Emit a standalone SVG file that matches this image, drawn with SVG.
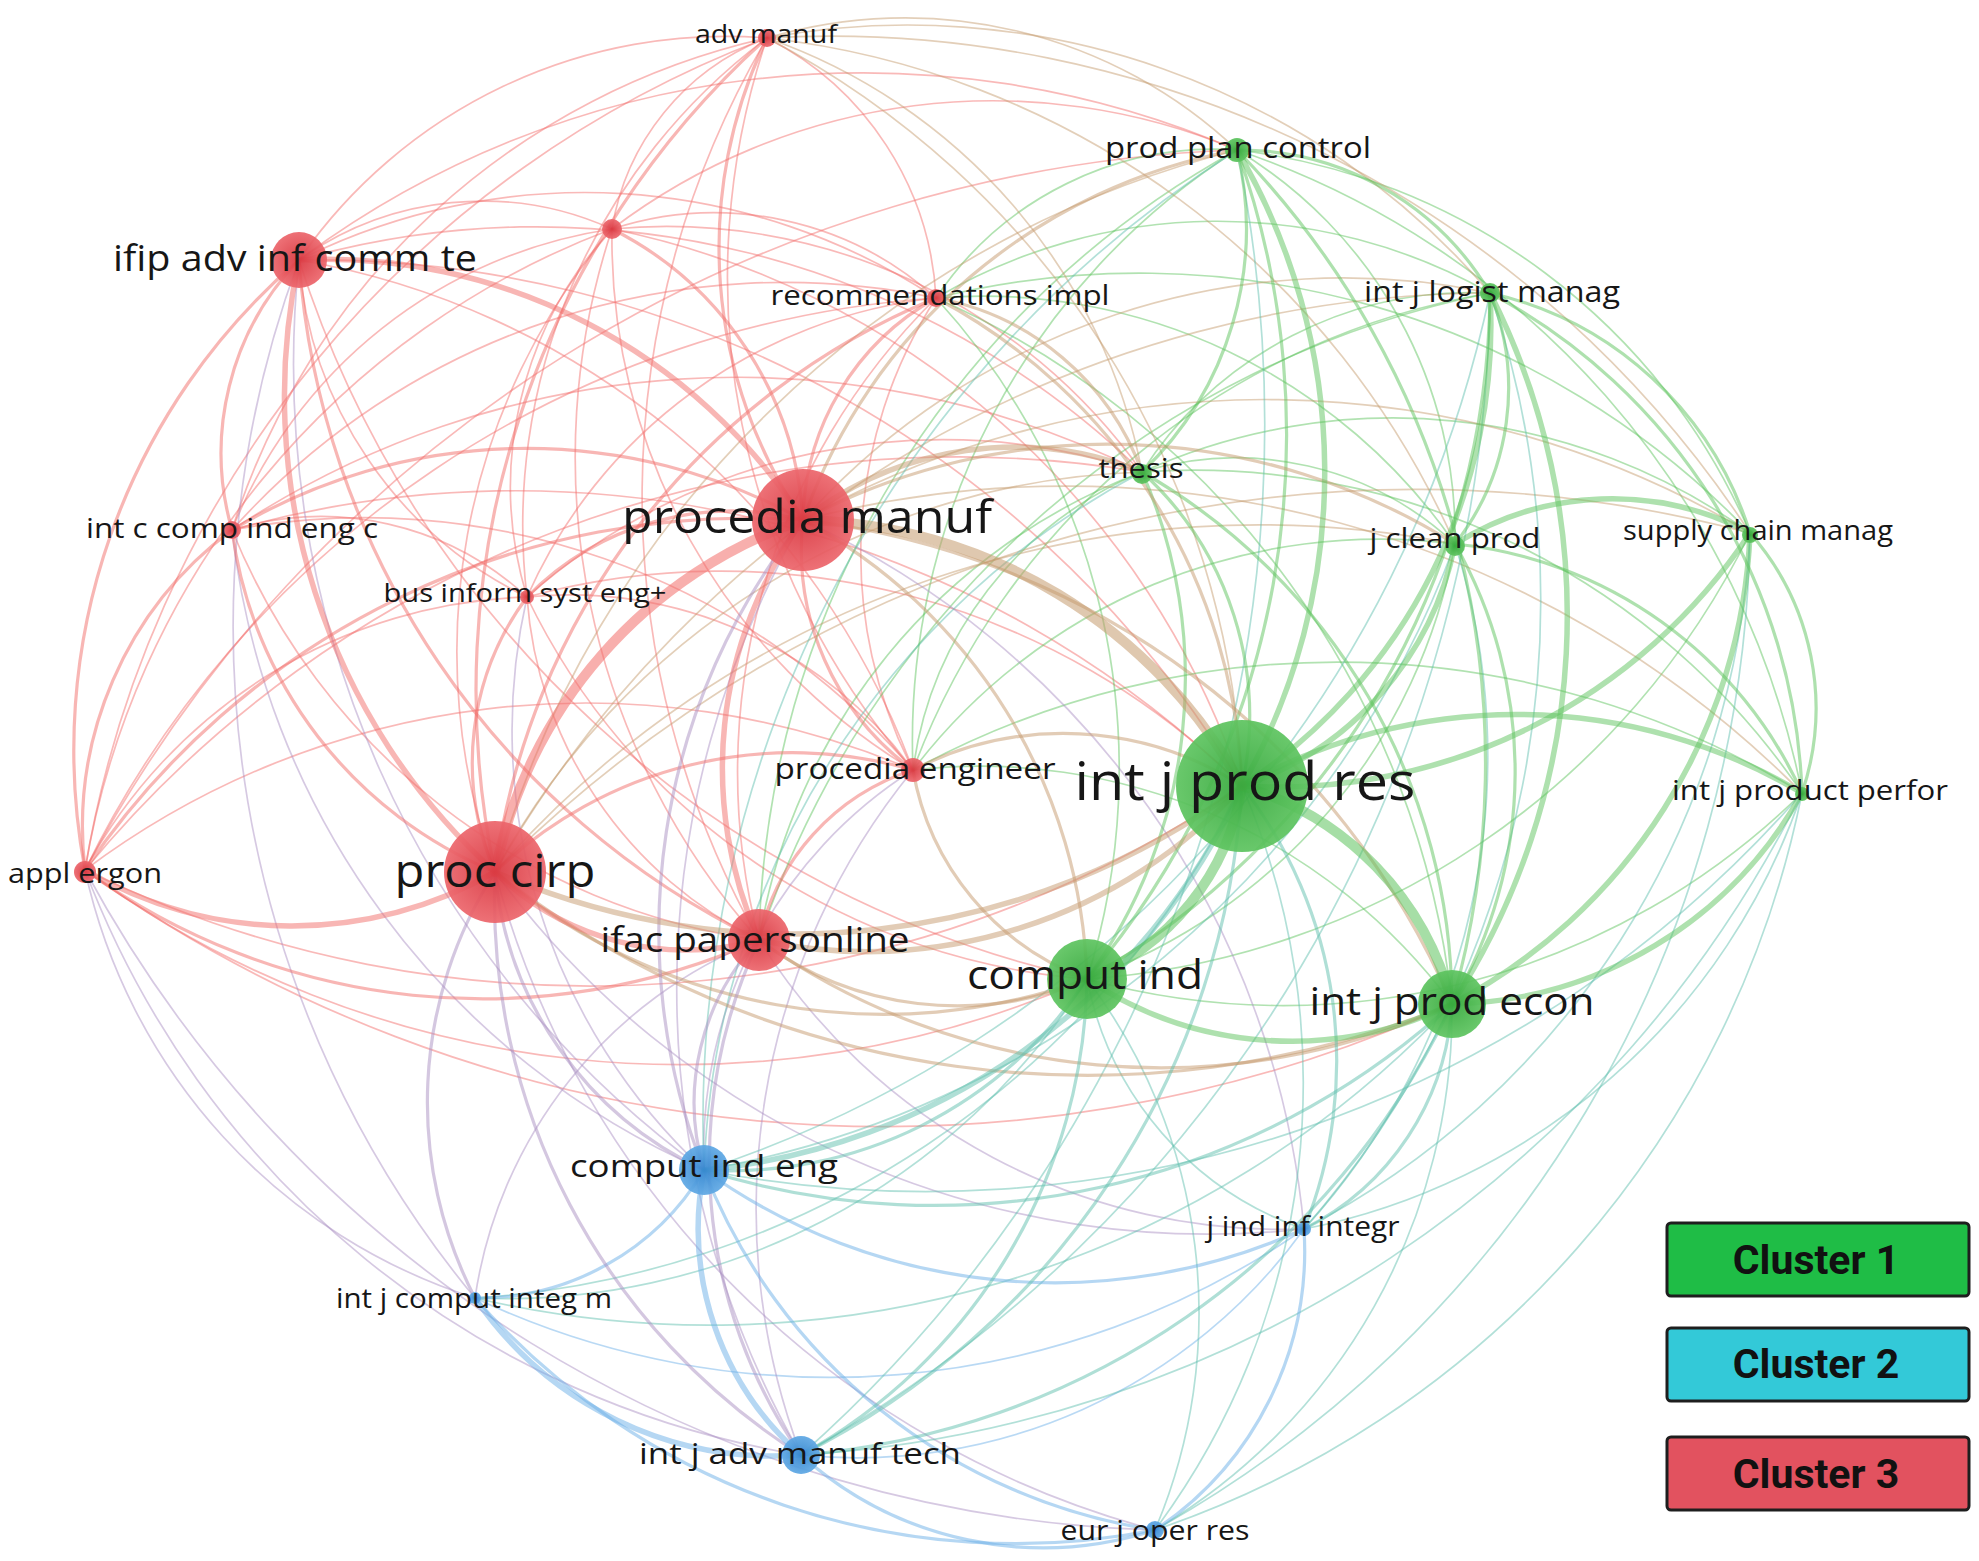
<svg xmlns="http://www.w3.org/2000/svg" width="1979" height="1561" viewBox="0 0 1979 1561">
<style>
.cn path{fill:none;stroke-linecap:round}
.rr{stroke:#f26d6a}.gg{stroke:#5dc35d}.bb{stroke:#6cafe8}.rg{stroke:#c59a6d}.rb{stroke:#a98fc2}.gb{stroke:#5fbfae}
.w1{stroke-width:1.7;stroke-opacity:.48}.w2{stroke-width:3.2;stroke-opacity:.5}.w3{stroke-width:5.5;stroke-opacity:.5}.w4{stroke-width:10;stroke-opacity:.55}
.nr{fill:url(#gr);fill-opacity:.93}.ng{fill:url(#gg);fill-opacity:.93}.nb{fill:url(#gb);fill-opacity:.93}
.lb{font-family:"Open Sans","Noto Sans",sans-serif;fill:#161616;text-anchor:middle}
.lg rect{stroke:#1e1e1e;stroke-width:3}
.lg text{font-family:Roboto,"Liberation Sans",sans-serif;font-weight:bold;font-size:41px;fill:#111;text-anchor:middle}
</style>
<defs>
<radialGradient id="gr"><stop offset="0" stop-color="#d9363f"/><stop offset="1" stop-color="#ec666c"/></radialGradient>
<radialGradient id="gg"><stop offset="0" stop-color="#35a83b"/><stop offset="1" stop-color="#5ec460"/></radialGradient>
<radialGradient id="gb"><stop offset="0" stop-color="#3486cf"/><stop offset="1" stop-color="#5fa8e4"/></radialGradient>
</defs>
<rect width="1979" height="1561" fill="#fff"/>
<g id="connectors" class="cn">
<g class="rr w1">
<path d="M495 872A654 654 0 0 1 612 229"/><path d="M759 940A668 668 0 0 1 232 530"/><path d="M759 940A414 414 0 0 1 527 597"/><path d="M759 940A902 902 0 0 1 767 38"/><path d="M759 940A666 666 0 0 1 936 298"/><path d="M759 940A726 726 0 0 1 612 229"/><path d="M299 260A518 518 0 0 1 767 38"/><path d="M299 260A315 315 0 0 1 612 229"/><path d="M299 260A638 638 0 0 1 936 298"/><path d="M527 597A407 407 0 0 1 299 260"/><path d="M299 260A798 798 0 0 1 913 770"/><path d="M85 870A520 520 0 0 1 527 597"/><path d="M85 870A834 834 0 0 1 913 770"/><path d="M85 870A1076 1076 0 0 1 767 38"/><path d="M85 870A1025 1025 0 0 1 936 298"/><path d="M232 530A303 303 0 0 1 527 597"/><path d="M232 530A727 727 0 0 1 767 38"/><path d="M232 530A722 722 0 0 1 913 770"/><path d="M232 530A741 741 0 0 1 936 298"/><path d="M527 597A608 608 0 0 1 767 38"/><path d="M527 597A378 378 0 0 1 612 229"/><path d="M527 597A423 423 0 0 1 913 770"/><path d="M527 597A507 507 0 0 1 936 298"/><path d="M913 770A746 746 0 0 1 767 38"/><path d="M913 770A473 473 0 0 1 936 298"/><path d="M913 770A619 619 0 0 1 612 229"/><path d="M612 229A246 246 0 0 1 767 38"/><path d="M767 38A310 310 0 0 1 936 298"/><path d="M612 229A331 331 0 0 1 936 298"/><path d="M232 530A485 485 0 0 1 612 229"/><path d="M85 870A830 830 0 0 1 612 229"/>
<path d="M299 260A1080 1080 0 0 1 1242 786"/><path d="M1087 979A1067 1067 0 0 1 299 260"/><path d="M299 260A944 944 0 0 1 1237 150"/><path d="M1242 786A1160 1160 0 0 1 85 870"/><path d="M1087 979A1008 1008 0 0 1 85 870"/><path d="M1452 1004A1374 1374 0 0 1 85 870"/><path d="M232 530A1042 1042 0 0 1 1242 786"/><path d="M527 597A740 740 0 0 1 1242 786"/><path d="M1087 979A678 678 0 0 1 527 597"/><path d="M612 229A841 841 0 0 1 1242 786"/><path d="M612 229A583 583 0 0 1 1142 472"/><path d="M612 229A630 630 0 0 1 1237 150"/><path d="M299 260A869 869 0 0 1 1142 472"/><path d="M232 530A912 912 0 0 1 1142 472"/><path d="M85 870A1130 1130 0 0 1 1142 472"/><path d="M85 870A1358 1358 0 0 1 1237 150"/><path d="M527 597A628 628 0 0 1 1142 472"/>
</g>
<g class="gg w1">
<path d="M1455 544A570 570 0 0 1 1087 979"/><path d="M1750 533A799 799 0 0 1 1087 979"/><path d="M1802 793A739 739 0 0 1 1087 979"/><path d="M1237 150A450 450 0 0 1 1455 544"/><path d="M1237 150A640 640 0 0 1 1750 533"/><path d="M1237 150A856 856 0 0 1 1802 793"/><path d="M1142 472A391 391 0 0 1 1490 293"/><path d="M1142 472A321 321 0 0 1 1455 544"/><path d="M1142 472A611 611 0 0 1 1750 533"/><path d="M1142 472A734 734 0 0 1 1802 793"/>
<path d="M913 770A588 588 0 0 1 1452 1004"/><path d="M913 770A376 376 0 0 1 1142 472"/><path d="M913 770A700 700 0 0 1 1237 150"/><path d="M936 298A335 335 0 0 1 1237 150"/><path d="M936 298A698 698 0 0 1 1087 979"/><path d="M936 298A554 554 0 0 1 1490 293"/><path d="M936 298A574 574 0 0 1 1455 544"/><path d="M936 298A847 847 0 0 1 1750 533"/><path d="M936 298A874 874 0 0 1 1452 1004"/><path d="M759 940A976 976 0 0 1 1490 293"/><path d="M913 770A749 749 0 0 1 1490 293"/><path d="M913 770A587 587 0 0 1 1455 544"/><path d="M913 770A889 889 0 0 1 1802 793"/><path d="M759 940A923 923 0 0 1 1237 150"/><path d="M759 940A605 605 0 0 1 1142 472"/>
</g>
<g class="bb w1">
<path d="M1304 1229A551 551 0 0 1 801 1455"/><path d="M1304 1229A832 832 0 0 1 475 1298"/>
</g>
<g class="rg w1">
<path d="M803 520A724 724 0 0 1 1490 293"/><path d="M803 520A947 947 0 0 1 1750 533"/><path d="M803 520A1036 1036 0 0 1 1802 793"/><path d="M495 872A1035 1035 0 0 1 1237 150"/><path d="M495 872A761 761 0 0 1 1142 472"/><path d="M495 872A1151 1151 0 0 1 1490 293"/><path d="M495 872A1014 1014 0 0 1 1455 544"/><path d="M767 38A483 483 0 0 1 1237 150"/><path d="M767 38A886 886 0 0 1 1242 786"/><path d="M767 38A574 574 0 0 1 1142 472"/><path d="M767 38A767 767 0 0 1 1490 293"/><path d="M495 872A1300 1300 0 0 1 1750 533"/><path d="M767 38A854 854 0 0 1 1455 544"/><path d="M767 38A1100 1100 0 0 1 1750 533"/>
</g>
<g class="rb w1">
<path d="M475 1298A457 457 0 0 1 759 940"/><path d="M801 1455A935 935 0 0 1 803 520"/><path d="M803 520A868 868 0 0 1 1304 1229"/><path d="M704 1170A451 451 0 0 1 913 770"/><path d="M801 1455A694 694 0 0 1 913 770"/><path d="M475 1298A579 579 0 0 1 85 870"/><path d="M1155 1530A1257 1257 0 0 1 85 870"/><path d="M801 1455A925 925 0 0 1 85 870"/><path d="M475 1298A1053 1053 0 0 1 299 260"/><path d="M704 1170A996 996 0 0 1 299 260"/><path d="M704 1170A795 795 0 0 1 232 530"/><path d="M704 1170A600 600 0 0 1 527 597"/><path d="M1304 1229A884 884 0 0 1 495 872"/><path d="M1155 1530A932 932 0 0 1 495 872"/><path d="M1304 1229A617 617 0 0 1 759 940"/>
</g>
<g class="gb w1">
<path d="M1242 786A749 749 0 0 1 1155 1530"/><path d="M1452 1004A604 604 0 0 1 1155 1530"/><path d="M1304 1229A331 331 0 0 1 1087 979"/><path d="M1087 979A555 555 0 0 1 1155 1530"/><path d="M1087 979A690 690 0 0 1 475 1298"/><path d="M1242 786A922 922 0 0 1 475 1298"/><path d="M704 1170A1151 1151 0 0 1 1237 150"/><path d="M1237 150A1376 1376 0 0 1 801 1455"/><path d="M1490 293A1178 1178 0 0 1 704 1170"/><path d="M1490 293A1351 1351 0 0 1 801 1455"/><path d="M1802 793A662 662 0 0 1 1304 1229"/><path d="M1802 793A981 981 0 0 1 1155 1530"/><path d="M1750 533A827 827 0 0 1 1304 1229"/><path d="M1455 544A978 978 0 0 1 704 1170"/><path d="M704 1170A824 824 0 0 1 1142 472"/><path d="M1452 1004A1020 1020 0 0 1 475 1298"/><path d="M1802 793A1161 1161 0 0 1 704 1170"/><path d="M1750 533A1161 1161 0 0 1 1155 1530"/><path d="M1490 293A954 954 0 0 1 1304 1229"/><path d="M1455 544A701 701 0 0 1 1304 1229"/><path d="M1802 793A1200 1200 0 0 1 801 1455"/>
</g>
<g class="rr w2">
<path d="M803 520A483 483 0 0 1 767 38"/><path d="M803 520A259 259 0 0 1 936 298"/><path d="M612 229A348 348 0 0 1 803 520"/><path d="M232 530A571 571 0 0 1 803 520"/><path d="M527 597A287 287 0 0 1 803 520"/><path d="M913 770A273 273 0 0 1 803 520"/><path d="M85 870A799 799 0 0 1 803 520"/><path d="M495 872A431 431 0 0 1 232 530"/><path d="M495 872A277 277 0 0 1 527 597"/><path d="M495 872A430 430 0 0 1 913 770"/><path d="M495 872A877 877 0 0 1 767 38"/><path d="M495 872A724 724 0 0 1 936 298"/><path d="M759 940A678 678 0 0 1 85 870"/><path d="M759 940A821 821 0 0 1 299 260"/><path d="M759 940A229 229 0 0 1 913 770"/><path d="M85 870A646 646 0 0 1 299 260"/><path d="M232 530A278 278 0 0 1 299 260"/><path d="M85 870A370 370 0 0 1 232 530"/>
</g>
<g class="gg w2">
<path d="M1142 472A330 330 0 0 1 1242 786"/><path d="M1237 150A881 881 0 0 1 1452 1004"/><path d="M1455 544A460 460 0 0 1 1452 1004"/><path d="M1142 472A616 616 0 0 1 1452 1004"/><path d="M1237 150A842 842 0 0 1 1087 979"/><path d="M1490 293A796 796 0 0 1 1087 979"/><path d="M1142 472A510 510 0 0 1 1087 979"/><path d="M1237 150A291 291 0 0 1 1490 293"/><path d="M1237 150A336 336 0 0 1 1142 472"/><path d="M1490 293A253 253 0 0 1 1455 544"/><path d="M1490 293A354 354 0 0 1 1750 533"/><path d="M1490 293A589 589 0 0 1 1802 793"/><path d="M1455 544A427 427 0 0 1 1802 793"/><path d="M1750 533A265 265 0 0 1 1802 793"/>
</g>
<g class="bb w2">
<path d="M704 1170A262 262 0 0 1 475 1298"/><path d="M1155 1530A362 362 0 0 1 801 1455"/><path d="M1155 1530A577 577 0 0 1 704 1170"/><path d="M1304 1229A603 603 0 0 1 704 1170"/><path d="M1304 1229A336 336 0 0 1 1155 1530"/><path d="M1155 1530A718 718 0 0 1 475 1298"/>
</g>
<g class="rg w2">
<path d="M803 520A540 540 0 0 1 1087 979"/><path d="M803 520A810 810 0 0 1 1452 1004"/><path d="M803 520A570 570 0 0 1 1237 150"/><path d="M803 520A652 652 0 0 1 1455 544"/><path d="M1087 979A602 602 0 0 1 495 872"/><path d="M1452 1004A966 966 0 0 1 495 872"/><path d="M1087 979A330 330 0 0 1 759 940"/><path d="M1452 1004A696 696 0 0 1 759 940"/><path d="M913 770A329 329 0 0 1 1242 786"/><path d="M1087 979A272 272 0 0 1 913 770"/><path d="M936 298A576 576 0 0 1 1242 786"/><path d="M936 298A270 270 0 0 1 1142 472"/>
</g>
<g class="rb w2">
<path d="M704 1170A364 364 0 0 1 495 872"/><path d="M801 1455A658 658 0 0 1 495 872"/><path d="M475 1298A426 426 0 0 1 495 872"/><path d="M704 1170A236 236 0 0 1 759 940"/><path d="M801 1455A517 517 0 0 1 759 940"/><path d="M704 1170A657 657 0 0 1 803 520"/>
</g>
<g class="gb w2">
<path d="M1087 979A428 428 0 0 1 704 1170"/><path d="M1242 786A801 801 0 0 1 801 1455"/><path d="M1242 786A447 447 0 0 1 1304 1229"/><path d="M1452 1004A766 766 0 0 1 704 1170"/><path d="M1452 1004A792 792 0 0 1 801 1455"/><path d="M1452 1004A269 269 0 0 1 1304 1229"/><path d="M1087 979A555 555 0 0 1 801 1455"/>
</g>
<g class="rr w3">
<path d="M299 260A567 567 0 0 1 803 520"/><path d="M759 940A422 422 0 0 1 803 520"/><path d="M759 940A273 273 0 0 1 495 872"/><path d="M495 872A643 643 0 0 1 299 260"/><path d="M495 872A410 410 0 0 1 85 870"/>
</g>
<g class="gg w3">
<path d="M1452 1004A366 366 0 0 1 1087 979"/><path d="M1237 150A636 636 0 0 1 1242 786"/><path d="M1490 293A552 552 0 0 1 1242 786"/><path d="M1750 533A567 567 0 0 1 1242 786"/><path d="M1242 786A560 560 0 0 1 1802 793"/><path d="M1455 544A322 322 0 0 1 1242 786"/><path d="M1490 293A712 712 0 0 1 1452 1004"/><path d="M1750 533A557 557 0 0 1 1452 1004"/><path d="M1802 793A409 409 0 0 1 1452 1004"/><path d="M1455 544A295 295 0 0 1 1750 533"/>
</g>
<g class="bb w3">
<path d="M801 1455A301 301 0 0 1 704 1170"/><path d="M801 1455A362 362 0 0 1 475 1298"/>
</g>
<g class="rg w3">
<path d="M803 520A342 342 0 0 1 1142 472"/><path d="M1242 786A752 752 0 0 1 495 872"/><path d="M1242 786A507 507 0 0 1 759 940"/>
</g>
<g class="gb w3">
<path d="M1242 786A661 661 0 0 1 704 1170"/>
</g>
<path class="rr w4" d="M495 872A468 468 0 0 1 803 520"/>
<path class="gg w4" d="M1242 786A303 303 0 0 1 1452 1004"/>
<path class="gg w4" d="M1242 786A248 248 0 0 1 1087 979"/>
<path class="rg w4" d="M803 520A513 513 0 0 1 1242 786"/>
</g>
<g id="n-adv-manuf"><circle class="nr" cx="767" cy="38" r="9"/><text class="lb" x="766" y="43" font-size="26" textLength="142" lengthAdjust="spacingAndGlyphs">adv manuf</text></g>
<g id="n-unnamed"><circle class="nr" cx="612" cy="229" r="10"/></g>
<g id="n-ifip"><circle class="nr" cx="299" cy="260" r="28"/><text class="lb" x="295" y="271" font-size="36" textLength="364" lengthAdjust="spacingAndGlyphs">ifip adv inf comm te</text></g>
<g id="n-recommendations"><circle class="nr" cx="936" cy="298" r="9"/><text class="lb" x="940" y="305" font-size="28" textLength="339" lengthAdjust="spacingAndGlyphs">recommendations impl</text></g>
<g id="n-int-c-comp"><circle class="nr" cx="232" cy="530" r="9"/><text class="lb" x="232" y="538" font-size="28" textLength="292" lengthAdjust="spacingAndGlyphs">int c comp ind eng c</text></g>
<g id="n-bus-inform"><circle class="nr" cx="527" cy="597" r="7"/><text class="lb" x="525" y="602" font-size="26" textLength="283" lengthAdjust="spacingAndGlyphs">bus inform syst eng+</text></g>
<g id="n-procedia-manuf"><circle class="nr" cx="803" cy="520" r="51"/><text class="lb" x="807" y="533" font-size="46" textLength="370" lengthAdjust="spacingAndGlyphs">procedia manuf</text></g>
<g id="n-procedia-engineer"><circle class="nr" cx="913" cy="770" r="12"/><text class="lb" x="915" y="779" font-size="29" textLength="281" lengthAdjust="spacingAndGlyphs">procedia engineer</text></g>
<g id="n-appl-ergon"><circle class="nr" cx="85" cy="872" r="11"/><text class="lb" x="85" y="883" font-size="27" textLength="154" lengthAdjust="spacingAndGlyphs">appl ergon</text></g>
<g id="n-proc-cirp"><circle class="nr" cx="495" cy="872" r="51"/><text class="lb" x="495" y="887" font-size="46" textLength="201" lengthAdjust="spacingAndGlyphs">proc cirp</text></g>
<g id="n-ifac"><circle class="nr" cx="759" cy="940" r="31"/><text class="lb" x="755" y="952" font-size="35" textLength="309" lengthAdjust="spacingAndGlyphs">ifac papersonline</text></g>
<g id="n-prod-plan-control"><circle class="ng" cx="1237" cy="150" r="12"/><text class="lb" x="1238" y="158" font-size="29" textLength="266" lengthAdjust="spacingAndGlyphs">prod plan control</text></g>
<g id="n-int-j-logist"><circle class="ng" cx="1490" cy="293" r="10"/><text class="lb" x="1492" y="302" font-size="29" textLength="256" lengthAdjust="spacingAndGlyphs">int j logist manag</text></g>
<g id="n-thesis"><circle class="ng" cx="1142" cy="474" r="10"/><text class="lb" x="1141" y="478" font-size="28" textLength="85" lengthAdjust="spacingAndGlyphs">thesis</text></g>
<g id="n-j-clean-prod"><circle class="ng" cx="1455" cy="546" r="10"/><text class="lb" x="1455" y="548" font-size="28" textLength="171" lengthAdjust="spacingAndGlyphs">j clean prod</text></g>
<g id="n-supply-chain"><circle class="ng" cx="1750" cy="535" r="8"/><text class="lb" x="1758" y="540" font-size="27" textLength="270" lengthAdjust="spacingAndGlyphs">supply chain manag</text></g>
<g id="n-int-j-prod-res"><circle class="ng" cx="1242" cy="786" r="66"/><text class="lb" x="1245" y="800" font-size="53" textLength="341" lengthAdjust="spacingAndGlyphs">int j prod res</text></g>
<g id="n-int-j-product-perfor"><circle class="ng" cx="1802" cy="794" r="7"/><text class="lb" x="1810" y="800" font-size="28" textLength="276" lengthAdjust="spacingAndGlyphs">int j product perfor</text></g>
<g id="n-comput-ind"><circle class="ng" cx="1087" cy="979" r="40"/><text class="lb" x="1085" y="989" font-size="40" textLength="236" lengthAdjust="spacingAndGlyphs">comput ind</text></g>
<g id="n-int-j-prod-econ"><circle class="ng" cx="1452" cy="1004" r="34"/><text class="lb" x="1452" y="1015" font-size="38" textLength="285" lengthAdjust="spacingAndGlyphs">int j prod econ</text></g>
<g id="n-comput-ind-eng"><circle class="nb" cx="704" cy="1170" r="25"/><text class="lb" x="704" y="1177" font-size="31" textLength="268" lengthAdjust="spacingAndGlyphs">comput ind eng</text></g>
<g id="n-j-ind-inf-integr"><circle class="nb" cx="1304" cy="1229" r="7"/><text class="lb" x="1303" y="1236" font-size="27" textLength="193" lengthAdjust="spacingAndGlyphs">j ind inf integr</text></g>
<g id="n-int-j-comput-integ-m"><circle class="nb" cx="475" cy="1298" r="6"/><text class="lb" x="474" y="1308" font-size="27" textLength="276" lengthAdjust="spacingAndGlyphs">int j comput integ m</text></g>
<g id="n-int-j-adv-manuf-tech"><circle class="nb" cx="801" cy="1455" r="19"/><text class="lb" x="800" y="1464" font-size="30" textLength="322" lengthAdjust="spacingAndGlyphs">int j adv manuf tech</text></g>
<g id="n-eur-j-oper-res"><circle class="nb" cx="1155" cy="1530" r="9"/><text class="lb" x="1155" y="1540" font-size="27" textLength="189" lengthAdjust="spacingAndGlyphs">eur j oper res</text></g>
<g id="legend" class="lg">
<rect x="1667" y="1223" width="302" height="73" rx="4" fill="#1fbd46"/><text x="1816" y="1274">Cluster 1</text>
<rect x="1667" y="1328" width="302" height="73" rx="4" fill="#33c9d8"/><text x="1816" y="1378">Cluster 2</text>
<rect x="1667" y="1437" width="302" height="73" rx="4" fill="#e2525f"/><text x="1816" y="1488">Cluster 3</text>
</g>
</svg>
